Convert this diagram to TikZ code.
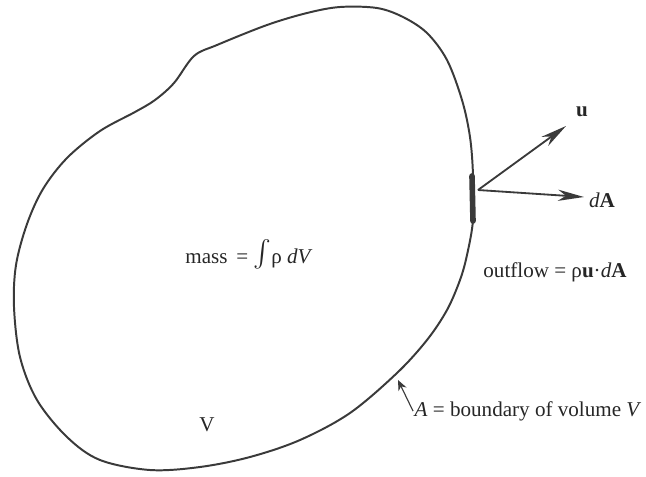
\documentclass[tikz,border=0pt]{standalone}
\usepackage{fontspec}
\setmainfont{Liberation Serif}
\usetikzlibrary{arrows.meta}
\definecolor{Ink}{HTML}{3A3A3A}
\tikzset{
 txt/.style={font=\fontsize{15}{18}\selectfont,inner sep=1pt,text=black!85},
 outline/.style={draw=Ink,line width=1.4pt},
 patch/.style={draw=Ink,line width=4pt,line cap=round},
 vec/.style={-{Stealth[length=6.5mm,width=2.8mm,inset=2mm]},line width=1.3pt,draw=Ink},
 pointer/.style={-{Stealth[length=2.6mm,width=2.2mm]},line width=0.8pt,draw=Ink}
}
\begin{document}
\begin{tikzpicture}[x=0.025cm,y=-0.025cm]
\useasboundingbox (0,0) rectangle (646,476);
% the control volume
\draw[outline] plot[smooth cycle,tension=0.55] coordinates {
 (155,100) (174,83) (194,56) (217,45) (267,25) (307,13) (340,7) (377,8)
 (403,17) (427,33) (447,60) (462,100) (470,137) (473,175) (473,220)
 (467,255) (460,280) (447,310) (427,340) (397,373) (350,413) (300,440)
 (250,457) (200,467) (150,470) (100,460) (67,437) (37,400) (20,357)
 (14,307) (16,265) (27,224) (43,189) (67,158) (100,131) (135,112)};
\draw[patch] (472,176) -- (473,221);
% surface element and vectors
\coordinate (p) at (478,190);
\coordinate (utip) at (566,126);
\coordinate (dtip) at (584,197);
\coordinate (atip) at (398,380);
\draw[vec] (p) -- (utip);
\draw[vec] (p) -- (dtip);
\node[txt] (u) at (582,112) {\textbf{u}};
\node[txt] (dA) at (602,200) {\textit{d}\textbf{A}};
% labels
\node[txt] (mass) at (249,254) {mass\, = \scalebox{1.9}{$\int$}ρ \textit{dV}};
\node[txt] (outflow) at (555,272) {outflow = ρ\textbf{u}·\textit{d}\textbf{A}};
\node[txt] (vol) at (207,425) {V};
\node[txt,anchor=west] (bnd) at (413,411) {\textit{A} = boundary of volume \textit{V}};
\draw[pointer] (bnd.west) -- (atip);
\end{tikzpicture}
\end{document}
